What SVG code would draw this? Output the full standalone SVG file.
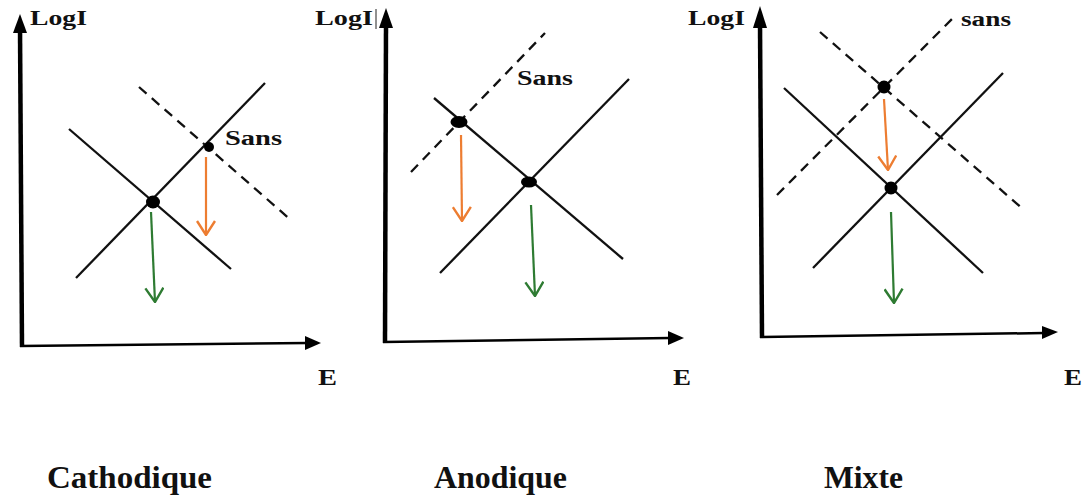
<svg xmlns="http://www.w3.org/2000/svg" width="1085" height="497" viewBox="0 0 1085 497">
<style>
.t{font-family:"Liberation Serif","Times New Roman",serif;font-weight:bold;fill:#111}
.ax{stroke:#000;fill:none}
.sl{stroke:#111;stroke-width:2.3;fill:none}
.dl{stroke:#111;stroke-width:2.3;fill:none;stroke-dasharray:10 7}
.or{stroke:#ED7D31;stroke-width:2.2;fill:none}
.gr{stroke:#2E7B32;stroke-width:2.2;fill:none}
</style>
<defs>
<marker id="mo" viewBox="0 0 16 20" refX="15" refY="10" markerWidth="16" markerHeight="20" markerUnits="userSpaceOnUse" orient="auto">
<path d="M1,1 L15,10 L1,19" stroke="#ED7D31" stroke-width="2.4" fill="none"/>
</marker>
<marker id="mg" viewBox="0 0 16 20" refX="15" refY="10" markerWidth="16" markerHeight="20" markerUnits="userSpaceOnUse" orient="auto">
<path d="M1,1 L15,10 L1,19" stroke="#2E7B32" stroke-width="2.4" fill="none"/>
</marker>
</defs>
<rect width="1085" height="497" fill="#fff"/>

<g id="panel-cathodique">
<line class="ax" x1="22" y1="347" x2="20" y2="28" stroke-width="4.5"/>
<polygon points="13,33 20,14 27,33" fill="#000"/>
<line class="ax" x1="20" y1="346" x2="308" y2="343" stroke-width="2.5"/>
<polygon points="305,336 321,343 305,350" fill="#000"/>
<text class="t" x="30" y="25" font-size="20" textLength="57" lengthAdjust="spacingAndGlyphs">LogI</text>
<text class="t" x="318" y="385" font-size="23" textLength="19" lengthAdjust="spacingAndGlyphs">E</text>
<line class="sl" x1="69" y1="129" x2="231" y2="269"/>
<line class="sl" x1="76" y1="278" x2="265" y2="83"/>
<line class="dl" x1="139" y1="87" x2="292" y2="221"/>
<ellipse cx="153" cy="202" rx="7" ry="6.5" fill="#000"/>
<circle cx="209" cy="147" r="5" fill="#000"/>
<text class="t" x="225" y="145" font-size="20" textLength="57" lengthAdjust="spacingAndGlyphs">Sans</text>
<line class="or" x1="206" y1="157" x2="206" y2="235" marker-end="url(#mo)"/>
<line class="gr" x1="151" y1="212" x2="155" y2="302" marker-end="url(#mg)"/>
<text class="t" x="47" y="488" font-size="31" textLength="165" lengthAdjust="spacingAndGlyphs">Cathodique</text>
</g>

<g id="panel-anodique">
<line class="ax" x1="385" y1="343" x2="386" y2="24" stroke-width="4.5"/>
<polygon points="379,28 386,8 393,28" fill="#000"/>
<line class="ax" x1="383" y1="342" x2="670" y2="338" stroke-width="2.5"/>
<polygon points="668,331 684,338 668,345" fill="#000"/>
<text class="t" x="315" y="25" font-size="20" textLength="58" lengthAdjust="spacingAndGlyphs">LogI</text>
<line x1="376" y1="9" x2="376" y2="29" stroke="#222" stroke-width="1"/>
<text class="t" x="673" y="385" font-size="23" textLength="18" lengthAdjust="spacingAndGlyphs">E</text>
<line class="sl" x1="434" y1="98" x2="623" y2="259"/>
<line class="sl" x1="440" y1="273" x2="629" y2="79"/>
<line class="dl" x1="411" y1="172" x2="545" y2="33"/>
<ellipse cx="459" cy="122" rx="8.5" ry="6" fill="#000"/>
<ellipse cx="529" cy="182" rx="8" ry="5.5" fill="#000"/>
<text class="t" x="517" y="85" font-size="20" textLength="56" lengthAdjust="spacingAndGlyphs">Sans</text>
<line class="or" x1="461" y1="135" x2="462" y2="221" marker-end="url(#mo)"/>
<line class="gr" x1="531" y1="205" x2="535" y2="296" marker-end="url(#mg)"/>
<text class="t" x="434" y="488" font-size="31" textLength="133" lengthAdjust="spacingAndGlyphs">Anodique</text>
</g>

<g id="panel-mixte">
<line class="ax" x1="762" y1="338" x2="760" y2="24" stroke-width="4.5"/>
<polygon points="753,28 760,6 767,28" fill="#000"/>
<line class="ax" x1="760" y1="337" x2="1044" y2="333" stroke-width="2.5"/>
<polygon points="1042,326 1058,332 1042,339" fill="#000"/>
<text class="t" x="688" y="25" font-size="20" textLength="57" lengthAdjust="spacingAndGlyphs">LogI</text>
<text class="t" x="1064" y="385" font-size="23" textLength="18" lengthAdjust="spacingAndGlyphs">E</text>
<line class="sl" x1="784" y1="88" x2="983" y2="273"/>
<line class="sl" x1="813" y1="268" x2="1003" y2="73"/>
<line class="dl" x1="820" y1="32" x2="1024" y2="210"/>
<line class="dl" x1="777" y1="195" x2="952" y2="19"/>
<circle cx="884" cy="87" r="6.5" fill="#000"/>
<circle cx="891" cy="188" r="6.5" fill="#000"/>
<text class="t" x="961" y="26" font-size="20" textLength="50" lengthAdjust="spacingAndGlyphs">sans</text>
<line class="or" x1="884" y1="99" x2="888" y2="170" marker-end="url(#mo)"/>
<line class="gr" x1="891" y1="212" x2="894" y2="303" marker-end="url(#mg)"/>
<text class="t" x="824" y="488" font-size="31" textLength="79" lengthAdjust="spacingAndGlyphs">Mixte</text>
</g>
</svg>
